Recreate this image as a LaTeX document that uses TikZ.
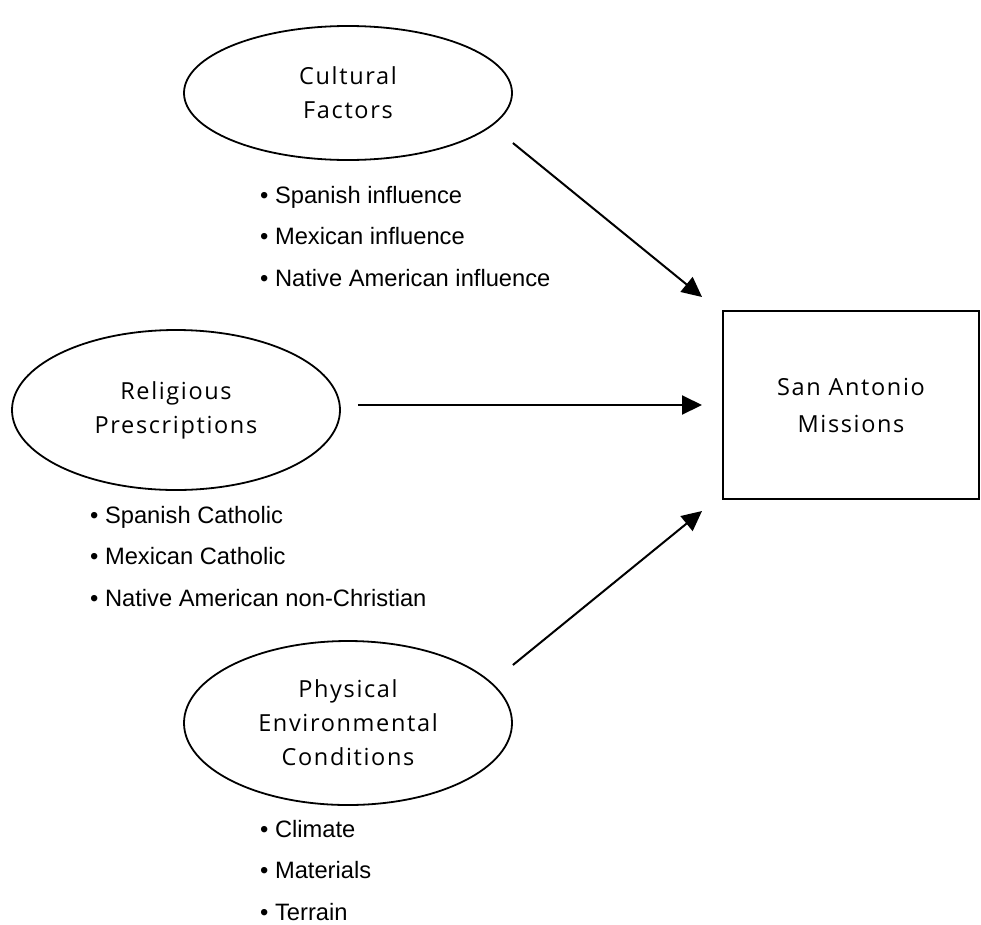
\documentclass[tikz,border=0pt]{standalone}
\usepackage{fontspec}
\setmainfont{Liberation Sans}
\newfontfamily\labelfont[LetterSpace=7]{Open Sans}
\usetikzlibrary{arrows.meta,shapes.geometric}
\tikzset{
  factor/.style={draw, line width=1.8pt, ellipse, inner sep=0pt, align=center,
    minimum width=328pt, font=\labelfont\fontsize{23.5}{34}\selectfont, text=black},
  target/.style={draw, line width=2pt, rectangle, inner sep=0pt, align=center,
    minimum width=256pt, minimum height=188pt, font=\labelfont\fontsize{23.5}{37}\selectfont, text=black},
  arr/.style={line width=2pt, -{Triangle[length=20pt,width=19pt]}},
  item/.style={anchor=base west, inner sep=0pt, font=\fontsize{23.7}{28}\selectfont}
}
\begin{document}
\begin{tikzpicture}[x=1pt,y=-1pt]
\useasboundingbox (0,0) rectangle (981,924);
\node[factor, minimum height=134pt] (cult) at (348,93) {Cultural\\Factors};
\node[factor, minimum height=160pt] (relig) at (176,410) {Religious\\Prescriptions};
\node[factor, minimum height=164pt] (phys) at (348,723) {Physical\\Environmental\\Conditions};
\node[target] (box) at (851,405) {San Antonio\\Missions};

\node[item] (c1) at (260,203) {• Spanish influence};
\node[item] (c2) at (260,244.5) {• Mexican influence};
\node[item] (c3) at (260,286) {• Native American influence};

\node[item] (r1) at (90,523) {• Spanish Catholic};
\node[item] (r2) at (90,564.5) {• Mexican Catholic};
\node[item] (r3) at (90,606) {• Native American non-Christian};

\node[item] (p1) at (260,837) {• Climate};
\node[item] (p2) at (260,878.5) {• Materials};
\node[item] (p3) at (260,920) {• Terrain};

\draw[arr] ([shift={(0,50)}]cult.east) -- ([shift={(-20,-108)}]box.west);
\draw[arr] ([xshift=17pt]relig.east |- box.west) -- ([xshift=-20pt]box.west);
\draw[arr] ([shift={(0,-58)}]phys.east) -- ([shift={(-20,106)}]box.west);
\end{tikzpicture}
\end{document}
